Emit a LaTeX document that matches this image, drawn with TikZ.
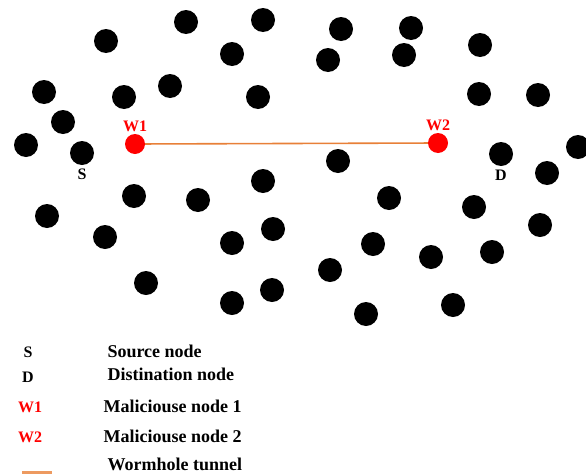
\documentclass[tikz,border=0pt]{standalone}
\usepackage{fontspec}
\setmainfont{Liberation Serif}
\usepackage{tikz}
\definecolor{tunnel}{RGB}{232,128,56}
\tikzset{dot/.style={circle,fill=black,inner sep=0pt,minimum size=24pt},
 bad/.style={circle,fill=red,inner sep=0pt,minimum size=20pt},
 lbl/.style={font=\fontsize{16}{18}\selectfont\bfseries},
 txt/.style={font=\fontsize{18}{20}\selectfont\bfseries,anchor=west}}
\begin{document}
\begin{tikzpicture}[x=1pt,y=-1pt]
 \useasboundingbox (0,0) rectangle (586,474);
 % ordinary nodes
 \foreach \x/\y [count=\i] in {106/41,186/22,263/20,232/54,341/29,411/28,328/60,404/55,
  480/45,44/92,124/97,170/86,258/97,479/94,538/95,63/122,26/145,578/147,338/161,
  547/173,263/181,134/196,198/200,389/198,474/207,47/216,105/237,273/229,232/243,
  373/244,431/257,492/252,540/225,330/270,146/283,272/290,232/303,366/314,453/305}
  \node[dot] (n\i) at (\x,\y) {};
 \node[dot] (s) at (82,153) {};
 \node[dot] (d) at (501,154) {};
 \node[lbl,below=0pt] at (s.south) {S};
 \node[lbl,below=0pt] at (d.south) {D};
 % wormhole
 \node[bad] (w1) at (135,144) {};
 \node[bad] (w2) at (438,143) {};
 \draw[tunnel,line width=1.6pt] (w1) -- (w2);
 \node[lbl,red,above=-1pt] at (w1.north) {W1};
 \node[lbl,red,above=-1pt] at (w2.north) {W2};
 % legend
 \node[lbl] (ks) at (28,352) {S};
 \node[lbl] (kd) at (28,377) {D};
 \node[lbl,red] (kw1) at (30,407) {W1};
 \node[lbl,red] (kw2) at (30,437) {W2};
 \node[txt] (ts) at (104,351) {Source node};
 \node[txt] (td) at (104,374) {Distination node};
 \node[txt] (tw1) at (100,406) {Maliciouse node 1};
 \node[txt] (tw2) at (100,436) {Maliciouse node 2};
 \node[txt] (tt) at (104,464) {Wormhole tunnel};
 \coordinate (ka) at (22,472);
 \coordinate (kb) at (52,472);
 \draw[tunnel!80,line width=3pt] (ka) -- (kb);
\end{tikzpicture}
\end{document}
